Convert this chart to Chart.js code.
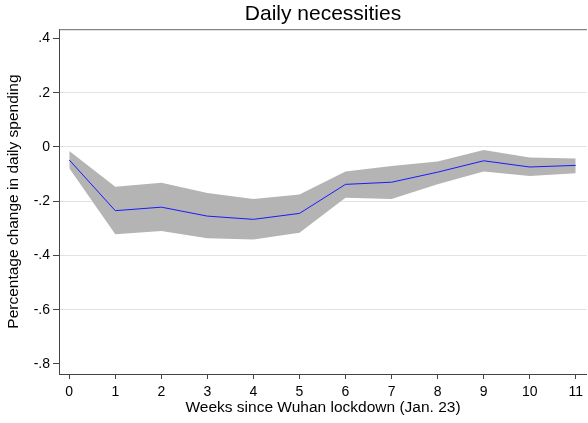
<!DOCTYPE html>
<html>
<head>
<meta charset="utf-8">
<title>Daily necessities</title>
<script src="https://cdn.jsdelivr.net/npm/chart.js@4/dist/chart.umd.min.js"></script>
<style>
  html, body { margin: 0; padding: 0; background: #ffffff; }
  canvas { display: block; }
</style>
</head>
<body>
<canvas id="chart" width="588" height="423"></canvas>
<script>
// Weeks since the Wuhan lockdown (Jan. 23)
const weeks = [0, 1, 2, 3, 4, 5, 6, 7, 8, 9, 10, 11];
// Point estimate of the percentage change in daily spending
const estimate = [-0.048, -0.235, -0.222, -0.255, -0.267, -0.245, -0.138, -0.130, -0.093, -0.051, -0.074, -0.068];
// Confidence band
const upperCI = [-0.015, -0.147, -0.132, -0.170, -0.192, -0.175, -0.091, -0.070, -0.054, -0.011, -0.039, -0.043];
const lowerCI = [-0.079, -0.322, -0.310, -0.337, -0.341, -0.316, -0.187, -0.192, -0.138, -0.091, -0.107, -0.097];

// Axis ticks
const xTickValues = [0, 1, 2, 3, 4, 5, 6, 7, 8, 9, 10, 11];
const yTickValues = [-0.8, -0.6, -0.4, -0.2, 0, 0.2, 0.4];
const yTickLabels = ['-.8', '-.6', '-.4', '-.2', '0', '.2', '.4'];

const FONT = "'Liberation Sans', Arial, sans-serif";
const AXIS = '#444444';

const pts = arr => weeks.map((w, i) => ({ x: w, y: arr[i] }));

// Outline along the top of the plot region
const topBorder = {
  id: 'topBorder',
  afterDraw(chart) {
    const { ctx, chartArea } = chart;
    ctx.save();
    ctx.strokeStyle = '#666666';
    ctx.lineWidth = 1;
    ctx.beginPath();
    ctx.moveTo(chartArea.left, chartArea.top + 0.5);
    ctx.lineTo(chartArea.right, chartArea.top + 0.5);
    ctx.stroke();
    ctx.restore();
  }
};

new Chart(document.getElementById('chart'), {
  type: 'line',
  data: {
    datasets: [
      {
        data: pts(lowerCI),
        borderWidth: 0,
        pointRadius: 0,
        fill: false,
        tension: 0,
        order: 3
      },
      {
        data: pts(upperCI),
        borderWidth: 0,
        pointRadius: 0,
        backgroundColor: '#b4b4b4',
        fill: '-1',
        tension: 0,
        order: 2
      },
      {
        data: pts(estimate),
        borderColor: '#1a1aff',
        borderWidth: 1,
        pointRadius: 0,
        fill: false,
        tension: 0,
        order: 1
      }
    ]
  },
  options: {
    responsive: false,
    devicePixelRatio: 1,
    animation: false,
    layout: { padding: 0 },
    plugins: {
      legend: { display: false },
      tooltip: { enabled: false },
      title: {
        display: true,
        text: 'Daily necessities',
        fullSize: false,
        color: '#000000',
        font: { family: FONT, size: 21, weight: 'normal', lineHeight: 1.2 },
        padding: { top: 2, bottom: 2 }
      }
    },
    scales: {
      x: {
        type: 'linear',
        min: -0.223,
        max: 11.245,
        afterBuildTicks: s => { s.ticks = xTickValues.map(v => ({ value: v })); },
        afterFit: s => { s.height = 49; },
        ticks: {
          color: '#000000',
          font: { family: FONT, size: 14 },
          padding: 5,
          maxRotation: 0,
          autoSkip: false,
          callback: v => String(v)
        },
        grid: {
          drawOnChartArea: false,
          drawTicks: true,
          tickLength: 5,
          tickColor: AXIS
        },
        border: { display: true, color: AXIS, width: 1 },
        title: {
          display: true,
          text: 'Weeks since Wuhan lockdown (Jan. 23)',
          color: '#000000',
          font: { family: FONT, size: 15.5 },
          padding: { top: 0, bottom: 6 }
        }
      },
      y: {
        type: 'linear',
        min: -0.837,
        max: 0.434,
        afterBuildTicks: s => { s.ticks = yTickValues.map(v => ({ value: v })); },
        afterFit: s => { s.width = 59; },
        ticks: {
          color: '#000000',
          font: { family: FONT, size: 14 },
          padding: 3,
          autoSkip: false,
          callback: v => {
            const i = yTickValues.findIndex(t => Math.abs(t - v) < 1e-9);
            return i >= 0 ? yTickLabels[i] : '';
          }
        },
        grid: {
          drawOnChartArea: true,
          drawTicks: true,
          tickLength: 6,
          tickColor: AXIS,
          lineWidth: 1,
          color: ctx => {
            const v = ctx.tick ? ctx.tick.value : null;
            if (v === null) return 'rgba(0,0,0,0)';
            if (Math.abs(v - 0.4) < 1e-9 || Math.abs(v + 0.8) < 1e-9) return 'rgba(0,0,0,0)';
            return '#e2e2e2';
          }
        },
        border: { display: true, color: AXIS, width: 1 },
        title: {
          display: true,
          text: 'Percentage change in daily spending',
          color: '#000000',
          font: { family: FONT, size: 15.5 },
          padding: { top: 4, bottom: 0 }
        }
      }
    }
  },
  plugins: [topBorder]
});
</script>
</body>
</html>
